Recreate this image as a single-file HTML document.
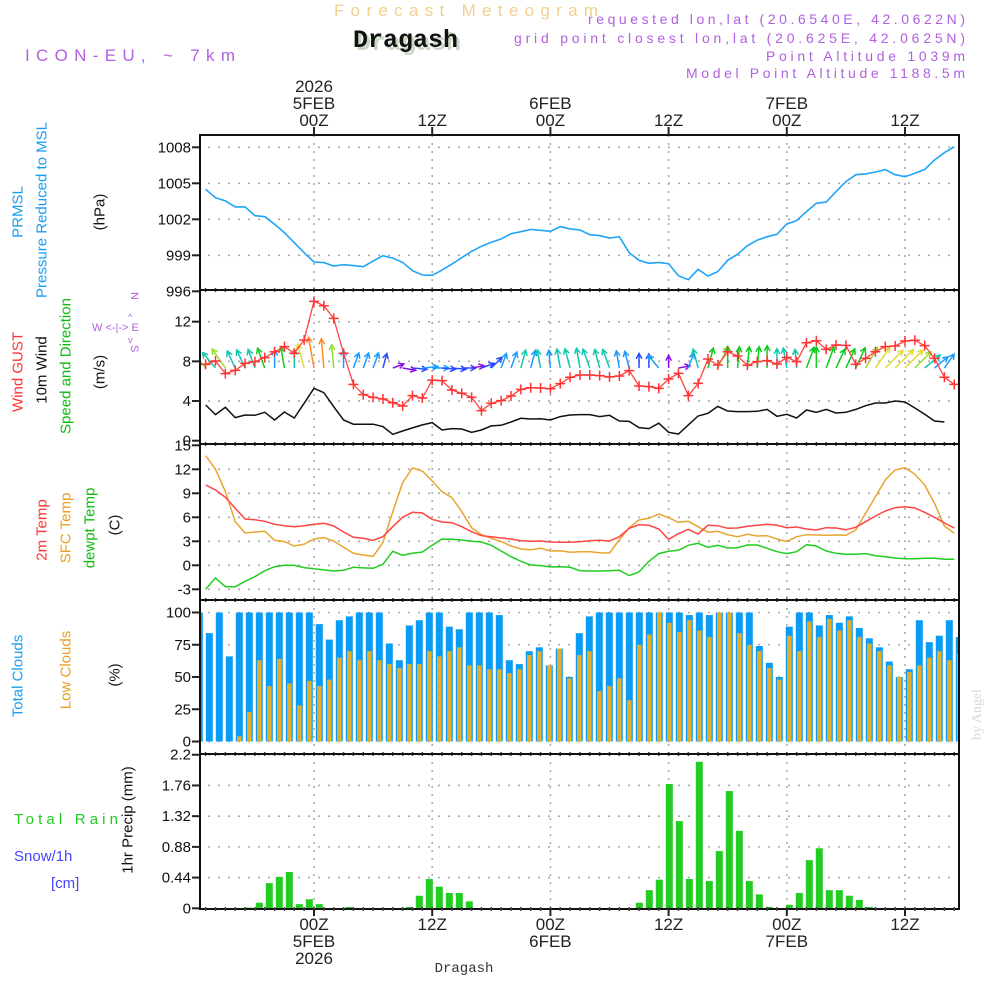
<!DOCTYPE html>
<html><head><meta charset="utf-8"><title>Meteogram Dragash</title>
<style>
html,body{margin:0;padding:0;background:#fff;}
svg{display:block;font-family:"Liberation Sans",sans-serif;}
</style></head>
<body>
<svg id="chart" width="1000" height="1000" viewBox="0 0 1000 1000" xmlns="http://www.w3.org/2000/svg">
<defs>
<clipPath id="cp1"><rect x="201" y="136" width="758" height="154"/></clipPath>
<clipPath id="cp2"><rect x="201" y="291" width="758" height="153"/></clipPath>
<clipPath id="cp3"><rect x="201" y="445" width="758" height="155"/></clipPath>
<clipPath id="cp4"><rect x="201" y="601" width="758" height="153"/></clipPath>
<clipPath id="cp5"><rect x="201" y="755" width="758" height="153"/></clipPath>
</defs>
<text x="334" y="16" font-size="17" fill="#f3cf8e" textLength="264" lengthAdjust="spacing">Forecast Meteogram</text>
<text x="356" y="50" font-size="25" font-weight="bold" font-family="Liberation Mono, monospace" fill="#c9d8c4">Dragash</text>
<text x="353" y="47" font-size="25" font-weight="bold" font-family="Liberation Mono, monospace" fill="#111">Dragash</text>
<text x="25" y="61" font-size="17" fill="#b060e0" textLength="210" lengthAdjust="spacing">ICON-EU, ~ 7km</text>
<g fill="#b060e0" font-size="14" text-anchor="end">
<text x="965" y="24" textLength="377" lengthAdjust="spacing">requested lon,lat (20.6540E, 42.0622N)</text>
<text x="965" y="43" textLength="451" lengthAdjust="spacing">grid point closest lon,lat (20.625E, 42.0625N)</text>
<text x="965" y="61" textLength="199" lengthAdjust="spacing">Point Altitude 1039m</text>
<text x="965" y="78" textLength="279" lengthAdjust="spacing">Model Point Altitude 1188.5m</text>
</g>
<g font-size="15" text-anchor="middle" dominant-baseline="central">
<text transform="translate(18,212) rotate(-90)" fill="#1a9cf0">PRMSL</text>
<text transform="translate(42,210) rotate(-90)" fill="#1a9cf0">Pressure Reduced to MSL</text>
<text transform="translate(100,212) rotate(-90)" fill="#111">(hPa)</text>
<text transform="translate(18,372) rotate(-90)" fill="#ff3333">Wind GUST</text>
<text transform="translate(42,370) rotate(-90)" fill="#111">10m Wind</text>
<text transform="translate(66,366) rotate(-90)" fill="#11bb11">Speed and Direction</text>
<text transform="translate(100,372) rotate(-90)" fill="#111">(m/s)</text>
<text transform="translate(42,530) rotate(-90)" fill="#ff3333">2m Temp</text>
<text transform="translate(66,528) rotate(-90)" fill="#e8a020">SFC Temp</text>
<text transform="translate(90,528) rotate(-90)" fill="#11bb11">dewpt Temp</text>
<text transform="translate(115,525) rotate(-90)" fill="#111">(C)</text>
<text transform="translate(18,676) rotate(-90)" fill="#1a9cf0">Total Clouds</text>
<text transform="translate(66,670) rotate(-90)" fill="#e8a020">Low Clouds</text>
<text transform="translate(115,675) rotate(-90)" fill="#111">(%)</text>
<text transform="translate(128,820) rotate(-90)" fill="#111">1hr Precip (mm)</text>
</g>
<g font-size="15">
<text x="14" y="824" fill="#22cc22" textLength="104" lengthAdjust="spacing">Total  Rain</text>
<text x="14" y="861" fill="#4444ff">Snow/1h</text>
<text x="51" y="888" fill="#4444ff">[cm]</text>
</g>
<g fill="#b060e0" font-size="11">
<text x="92" y="331">W &lt;-|-&gt; E</text>
<text transform="translate(131,292) rotate(90)">N</text>
<text transform="translate(131,345) rotate(90)">S</text>
<text x="128" y="320" font-size="9">^</text>
<text x="128" y="343" font-size="9">v</text>
</g>
<text transform="translate(981,740) rotate(-90)" font-size="14" fill="#d8d8d8" font-family="Liberation Serif, serif">by Angel</text>
<text x="464" y="972" font-size="14" text-anchor="middle" fill="#333" font-family="Liberation Mono, monospace">Dragash</text>
<g id="plot"></g>
</svg>
<script>
// ---- data (hour offsets from 00Z 5FEB) ----
const hours = [];
for (let h = -11; h <= 65; h++) hours.push(h);
const pressure = [1004.5,1003.8,1003.53,1003.03,1003.03,1002.3,1002.22,1001.58,1000.89,1000.05,999.22,998.44,998.39,998.11,998.22,998.14,998.05,998.52,998.97,998.77,998.41,997.72,997.36,997.33,997.77,998.27,998.8,999.33,999.75,1000.08,1000.36,1000.8,1000.97,1001.16,1001.08,1001.0,1001.39,1001.2,1001.11,
1000.72,1000.64,1000.44,1000.55,999.22,998.58,998.33,998.41,998.3,997.3,996.97,997.83,997.27,997.64,998.58,999.08,999.8,1000.27,1000.55,1000.75,1001.61,1001.89,1002.64,1003.33,1003.44,1004.3,1005.14,1005.72,1005.78,1005.94,1006.14,1005.72,1005.55,1005.83,1006.16,1006.94,1007.55,1008.05];
const gust = [7.7,8.03,6.76,7.09,7.8,7.97,8.37,8.97,9.48,8.81,10.15,14.05,13.61,12.33,8.81,5.68,4.64,4.37,4.2,3.83,3.5,4.54,4.3,6.11,6.05,5.11,4.78,4.37,3.03,3.77,4.04,4.5,5.18,5.34,5.31,5.24,5.75,6.39,6.62,
6.62,6.56,6.42,6.52,7.06,5.52,5.45,5.28,6.22,6.79,4.54,5.78,8.23,7.63,8.97,8.54,7.6,7.97,8.07,7.73,8.4,7.97,9.88,10.08,9.21,9.65,9.61,7.7,8.3,8.97,9.48,9.55,10.05,10.12,9.58,8.3,6.39,5.68];
const wind10m = [3.6,2.63,3.37,2.33,2.59,2.56,2.86,2.09,2.89,2.29,3.77,5.28,4.84,3.43,2.09,1.66,1.66,1.66,1.42,0.65,0.98,1.29,1.59,1.82,1.08,1.22,1.18,0.85,1.08,1.49,1.55,1.89,2.26,2.19,2.22,2.09,2.43,2.59,2.63,
2.63,2.43,2.56,1.99,1.95,1.32,1.22,1.76,0.85,0.67,1.59,2.49,2.76,3.46,2.99,2.93,2.93,2.96,3.16,2.46,2.66,2.29,3.09,2.86,3.16,2.79,2.86,3.16,3.53,3.8,3.8,4.0,3.9,3.3,2.66,1.99,1.89];
const windDir = [-40,-40,-35,-25,-25,-20,-20,0,-10,0,-15,-10,-5,-5,0,20,20,20,15,70,100,95,85,90,95,95,90,80,70,45,20,20,15,15,-10,-5,-10,-15,-10,
-20,-15,-20,-10,-15,0,0,-40,0,80,20,-15,15,25,0,5,5,5,0,0,-10,-5,20,0,20,25,25,25,30,35,45,45,45,45,50,50,35,30];
const temp2m = [10.04,9.41,8.5,7.12,5.79,5.7,5.5,5.12,4.95,4.83,4.95,5.12,5.25,4.91,4.16,3.5,3.37,3.12,3.58,4.83,6.0,6.62,6.54,5.75,5.41,5.33,4.83,4.2,3.7,3.58,3.41,3.29,3.08,3.0,3.04,2.91,2.87,2.87,2.96,
3.08,3.12,3.04,3.58,4.62,5.08,5.0,4.54,3.25,3.95,4.5,3.91,5.0,4.95,4.62,4.66,4.87,5.0,5.12,5.0,4.7,4.79,4.54,4.41,4.7,4.66,4.45,4.75,5.45,6.16,6.79,7.2,7.33,7.16,6.62,6.0,5.29,4.66];
const tempSfc = [13.7,12.0,9.2,5.45,4.04,4.16,4.25,3.12,2.96,2.41,2.62,3.29,3.45,3.04,2.25,1.5,1.29,1.12,2.83,6.7,10.33,12.16,11.79,10.54,9.2,8.45,6.7,4.7,3.83,3.37,2.96,2.41,2.04,1.95,2.12,1.79,1.83,1.62,1.7,
1.7,1.58,1.54,3.16,4.7,5.66,5.87,6.41,5.95,5.37,5.5,4.83,4.12,4.25,3.83,3.58,3.87,3.66,3.7,3.29,2.96,3.58,3.83,3.79,3.75,3.79,3.75,4.41,6.5,8.58,10.66,11.91,12.2,11.37,10.04,7.75,4.91,4.0];
const dewpt = [-3.0,-1.58,-2.67,-2.67,-2.0,-1.42,-0.67,-0.17,0.0,0.0,-0.29,-0.42,-0.58,-0.71,-0.62,-0.25,-0.33,-0.37,0.12,1.75,1.25,1.5,1.66,2.5,3.29,3.25,3.16,3.0,2.91,2.5,1.79,1.08,0.5,0.04,-0.04,-0.2,-0.17,-0.25,-0.67,
-0.71,-0.71,-0.67,-0.62,-1.29,-0.83,0.5,1.46,1.75,1.87,2.5,2.75,2.25,2.5,2.16,2.2,2.54,2.54,2.12,1.7,1.46,1.7,2.58,2.41,1.79,1.5,1.37,1.37,1.46,1.2,1.08,0.91,0.83,0.83,0.87,0.87,0.75,0.75];
// hourly bars (index 0 = first partial bar)
const totalClouds = [100,84,100,66,100,100,100,100,100,100,100,100,91,79,94,97,100,100,100,76,63,90,94,100,100,89,87,100,100,100,98,63,60,70,73,59,72,50,84,97,
100,100,100,100,100,100,100,100,100,98,100,98,100,100,100,100,74,61,50,89,100,100,90,98,92,97,88,80,73,62,50,56,94,77,82,94,81];
const lowClouds = [0,0,0,0,4,23,63,43,64,45,28,47,43,48,65,70,63,70,63,60,57,60,60,70,66,70,73,59,59,56,56,53,56,67,70,59,72,49,67,70,
39,43,49,32,75,83,100,92,85,94,86,81,100,100,84,75,70,57,48,82,70,93,81,95,86,94,81,76,70,59,50,54,59,65,70,63,68];
const precip = [0,0,0,0,0,0.01,0.08,0.36,0.45,0.52,0.06,0.13,0.06,0,0,0.02,0,0,0,0,0,0.02,0.18,0.42,0.31,0.22,0.22,0.1,0,0,0,0,0,0,0,0,0,0,0,0,
0,0,0,0,0.08,0.26,0.41,1.78,1.25,0.42,2.1,0.39,0.82,1.68,1.11,0.39,0.2,0.02,0,0.05,0.22,0.69,0.86,0.26,0.26,0.18,0.12,0.02,0,0,0,0,0,0,0,0,0];
// tick labels
const pTicks = [996,999,1002,1005,1008];
const wTicks = [0,4,8,12];
const tTicks = [-3,0,3,6,9,12,15];
const cTicks = [0,25,50,75,100];
const rTicks = [0,0.44,0.88,1.32,1.76,2.2];
const timeTicks = [0,12,24,36,48,60];
const topLabels = [["2026","5FEB","00Z"],["","","12Z"],["","6FEB","00Z"],["","","12Z"],["","7FEB","00Z"],["","","12Z"]];
const bottomLabels = [["00Z","5FEB","2026"],["12Z","",""],["00Z","6FEB",""],["12Z","",""],["00Z","7FEB",""],["12Z","",""]];

// ---- axes ----
const X = h => 314 + h * 9.85;
const BX = k => 199.3 + k * 10;
const pY = p => 147.3 + (1008 - p) * 12;
const wY = v => 440.7 - v * 9.92;
const tY = t => 565.3 - t * 8;
const cY = c => 741.5 - c * 1.29;
const rY = r => 908.3 - r * 69.8;
const L = 200, R = 959;
const panels = [[135,290],[290,444],[444,600],[600,754],[754,909]];

const NS = "http://www.w3.org/2000/svg";
const root = document.getElementById('plot');
function mk(tag, attrs, parent) {
  const e = document.createElementNS(NS, tag);
  for (const k in attrs) e.setAttribute(k, attrs[k]);
  (parent || root).appendChild(e);
  return e;
}
function grp(name, clip) {
  const g = mk('g', clip ? {'clip-path': 'url(#' + clip + ')'} : {});
  
  
  return g;
}

// grid
const grid = grp('grid-lines');
panels.forEach(([t, b]) => {
  timeTicks.forEach(h => {
    const l = mk('line', {x1: X(h), x2: X(h), y1: t, y2: b, stroke: '#aaa', 'stroke-width': 1.6, 'stroke-dasharray': '2 6'}, grid);
    
    
  });
});
function hgrid(ticks, fy, name) {
  ticks.forEach(v => {
    const l = mk('line', {x1: L + 8, x2: R, y1: fy(v), y2: fy(v), stroke: '#aaa', 'stroke-width': 1.6, 'stroke-dasharray': '2 8'}, grid);
    
    
  });
}
hgrid(pTicks.slice(1), pY, 'pressure-grid-line');
hgrid(wTicks.slice(1), wY, 'wind-grid-line');
hgrid(tTicks.slice(0, -1), tY, 'temp-grid-line');
hgrid(cTicks, cY, 'cloud-grid-line');
hgrid(rTicks.slice(1), rY, 'precip-grid-line');

// y tick labels
function yAxis(ticks, fy, name, fmt) {
  const g = grp(name);
  ticks.forEach(v => {
    const tk = mk('line', {x1: L - 8, x2: L, y1: fy(v), y2: fy(v), stroke: '#222', 'stroke-width': 2}, g);
    
    
    const tx = mk('text', {x: L - 9, y: fy(v) + 5, 'font-size': 15, 'text-anchor': 'end', fill: '#111'}, g);
    
    
    tx.textContent = fmt ? fmt(v) : v;
  });
}
yAxis(pTicks, pY, 'pressure-y-axis');
yAxis(wTicks, wY, 'wind-y-axis');
yAxis(tTicks, tY, 'temp-y-axis');
yAxis(cTicks, cY, 'cloud-y-axis');
yAxis(rTicks, rY, 'precip-y-axis', v => v === 0 ? '0' : String(v));

// clouds
const cg = grp('cloud-bars', 'cp4');
totalClouds.forEach((v, k) => {
  const r = mk('rect', {x: BX(k) - 3.5, y: cY(v), width: 7, height: cY(0) - cY(v), fill: '#0a9cf5'}, cg);
  
  
});
lowClouds.forEach((v, k) => {
  const r = mk('rect', {x: BX(k) - 2.2, y: cY(v), width: 4.5, height: cY(0) - cY(v), fill: '#e5ad2c'}, cg);
  
  
});
// precip
const rg = grp('precip-bars', 'cp5');
precip.forEach((v, k) => {
  if (v <= 0) return;
  const r = mk('rect', {x: BX(k) - 3.5, y: rY(v), width: 7, height: rY(0) - rY(v), fill: '#22cc22'}, rg);
  
  
});

function line(arr, fy, color, name, clip, w) {
  const g = grp(name, clip);
  const pts = arr.map((v, i) => X(hours[i]).toFixed(1) + ',' + fy(v).toFixed(1)).join(' ');
  const pl = mk('polyline', {points: pts, fill: 'none', stroke: color, 'stroke-width': w || 1.5}, g);
  
  
  return g;
}
line(pressure, pY, '#1ea5f7', 'pressure-line', 'cp1', 1.6);
line(tempSfc, tY, '#e8a530', 'sfc-temp-line', 'cp3');
line(temp2m, tY, '#ff4444', 't2m-line', 'cp3');
line(dewpt, tY, '#22cc22', 'dewpt-line', 'cp3');
line(wind10m, wY, '#111', 'wind10m-line', 'cp2');

// wind arrows
function speedColor(s) {
  if (s < 1) return '#8a10e8';
  if (s < 1.5) return '#2a4cff';
  if (s < 2.2) return '#1a9cff';
  if (s < 2.75) return '#12c8b0';
  if (s < 3.25) return '#10cc20';
  if (s < 3.65) return '#99dd30';
  if (s < 4.6) return '#e0dc30';
  return '#ff8a20';
}
const ag = grp('wind-arrows', 'cp2');
wind10m.forEach((s, i) => {
  const x0 = X(hours[i]), y0 = 368;
  const a = windDir[i] * Math.PI / 180, len = 9 + 4.2 * s;
  const x1 = x0 + Math.sin(a) * len, y1 = y0 - Math.cos(a) * len;
  const c = speedColor(s);
  const h1 = a + Math.PI * 0.84, h2 = a - Math.PI * 0.84;
  const d = `M${x0},${y0}L${x1},${y1}M${x1 + Math.sin(h1) * 6},${y1 - Math.cos(h1) * 6}L${x1},${y1}L${x1 + Math.sin(h2) * 6},${y1 - Math.cos(h2) * 6}`;
  const p = mk('path', {d: d, stroke: c, 'stroke-width': 1.5, fill: 'none'}, ag);
  
  
});
// gust
const gg = line(gust, wY, '#ff4444', 'gust-line', 'cp2', 1.3);
gust.forEach((v, i) => {
  const x = X(hours[i]), y = wY(v);
  const m = mk('path', {d: `M${x - 5},${y}H${x + 5}M${x},${y - 5}V${y + 5}`, stroke: '#ff3333', 'stroke-width': 1.5}, gg);
  
  
});

// frames, separators and minor ticks
const fg = grp('panel-frames');
panels.forEach(([t, b]) => {
  const r = mk('rect', {x: L, y: t, width: R - L, height: b - t, fill: 'none', stroke: '#111', 'stroke-width': 2}, fg);
  
  
  for (let h = -11; h <= 65; h++) {
    const tk = mk('line', {x1: X(h), x2: X(h), y1: b - 2, y2: b + 2, stroke: '#444', 'stroke-width': 1.5}, fg);
    
    
  }
});
// time labels
const tg = grp('time-axis-labels');
timeTicks.forEach((h, i) => {
  const tk = mk('line', {x1: X(h), x2: X(h), y1: 127, y2: 135, stroke: '#222', 'stroke-width': 2}, tg);
  
  
  const bk = mk('line', {x1: X(h), x2: X(h), y1: 909, y2: 916, stroke: '#222', 'stroke-width': 2}, tg);
  
  
  topLabels[i].forEach((s, j) => {
    if (!s) return;
    const t = mk('text', {x: X(h), y: 92 + j * 17, 'font-size': 17, 'text-anchor': 'middle', fill: '#222'}, tg);
    
    
    t.textContent = s;
  });
  bottomLabels[i].forEach((s, j) => {
    if (!s) return;
    const t = mk('text', {x: X(h), y: 930 + j * 17, 'font-size': 17, 'text-anchor': 'middle', fill: '#222'}, tg);
    
    
    t.textContent = s;
  });
});
</script>
</body></html>
